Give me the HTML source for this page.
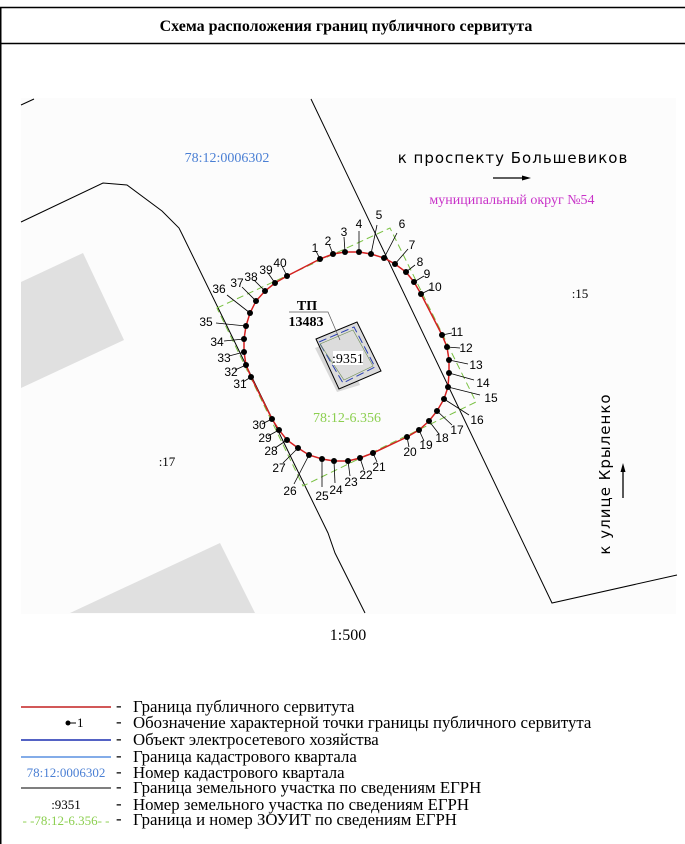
<!DOCTYPE html>
<html><head><meta charset="utf-8"><style>
html,body{margin:0;padding:0;background:#fff;width:685px;height:844px;overflow:hidden}
svg{display:block}
.n{font-family:"Liberation Sans",sans-serif;font-size:12px;fill:#000;text-anchor:middle}
.lg{font-family:"Liberation Serif",serif;font-size:16.8px;fill:#000}
</style></head><body>
<svg width="685" height="844" viewBox="0 0 685 844" xmlns="http://www.w3.org/2000/svg">
<line x1="0" y1="7.5" x2="685" y2="7.5" stroke="#000" stroke-width="1.5"/>
<line x1="0" y1="43.5" x2="685" y2="43.5" stroke="#000" stroke-width="1.5"/>
<line x1="0.75" y1="7" x2="0.75" y2="844" stroke="#000" stroke-width="1.5"/>
<text x="346" y="31" text-anchor="middle" font-family="Liberation Serif,serif" font-weight="bold" font-size="16">Схема расположения границ публичного сервитута</text>

<rect x="21" y="98" width="655" height="516" fill="#fcfcfc"/>
<polygon points="21,282 83,253 124,340 21,388" fill="#e0e0e0"/>
<polygon points="220,543 70,613 255,613" fill="#e0e0e0"/>
<line x1="21" y1="105" x2="34" y2="99" stroke="#000"/>
<polyline points="21,222 103,183 127,185 162,211 179,228 182,234 328,533 335,553 365,613" fill="none" stroke="#000"/>
<polyline points="311,99 552,603 677,575" fill="none" stroke="#000"/>

<text x="227" y="162" text-anchor="middle" font-family="Liberation Serif,serif" font-size="14" fill="#4a7fd4">78:12:0006302</text>
<text x="513" y="163" text-anchor="middle" font-family="DejaVu Sans,sans-serif" font-size="15" letter-spacing="1">к проспекту Большевиков</text>
<line x1="493" y1="178" x2="524" y2="178" stroke="#000" stroke-width="1.3"/><polygon points="522,175.5 531,178 522,180.5" fill="#000"/>
<text x="512" y="204" text-anchor="middle" font-family="Liberation Serif,serif" font-size="14" fill="#c832c8">муниципальный округ №54</text>
<text x="580" y="298" text-anchor="middle" font-family="Liberation Serif,serif" font-size="13">:15</text>
<text x="167" y="466" text-anchor="middle" font-family="Liberation Serif,serif" font-size="13">:17</text>
<text transform="translate(610,474) rotate(-90)" text-anchor="middle" font-family="DejaVu Sans,sans-serif" font-size="15" letter-spacing="1">к улице Крыленко</text>
<line x1="623" y1="470" x2="623" y2="498" stroke="#000" stroke-width="1.3"/><polygon points="620.5,472 623,463 625.5,472" fill="#000"/>

<polygon points="217,308 390,228 476,402 303,486" fill="none" stroke="#7ac143" stroke-dasharray="7,4"/>

<polygon points="315,348 341,338 360,385 337,392" fill="#d8d8d8"/>
<polygon points="316,339 357,322 381,371 339,389" fill="#dcdcdc" stroke="#000"/>
<polygon points="319,342 354,327 375,367 343,383" fill="none" stroke="#2a3fb0" stroke-dasharray="8,4"/>
<polygon points="320,344 353,330 373,366 344,380" fill="none" stroke="#6a8a50" stroke-width="0.6"/>
<text x="307" y="310" text-anchor="middle" font-family="Liberation Serif,serif" font-weight="bold" font-size="14">ТП</text>
<text x="306" y="326" text-anchor="middle" font-family="Liberation Serif,serif" font-weight="bold" font-size="14">13483</text>
<polyline points="289,312 328,312 340,340" fill="none" stroke="#555" stroke-width="0.7"/>
<rect x="333" y="351" width="30" height="14" fill="#fff"/>
<text x="348" y="363" text-anchor="middle" font-family="Liberation Serif,serif" font-size="14">:9351</text>
<text x="347" y="422" text-anchor="middle" font-family="Liberation Serif,serif" font-size="14" fill="#8ccf50">78:12-6.356</text>

<polygon points="320,259 333,254 345,252 359,252 371,254 384,258 395,264 406,272 414,282 421,294 442,335 447,347 449,360 449,373 448,387 444,399 437,411 429,421 419,430 407,437 373,453 360,458 348,461 334,461 322,459 309,455 298,448 287,440 279,430 272,419 251,377 246,365 244,352 244,339 246,326 250,313 256,301 265,291 275,283 287,276" fill="none" stroke="#d42020" stroke-width="1.5"/>
<g stroke="#000" stroke-width="0.8">
<line x1="320" y1="259" x2="316" y2="251"/><line x1="333" y1="254" x2="329" y2="244"/><line x1="345" y1="252" x2="344" y2="237"/><line x1="359" y1="252" x2="359" y2="231"/><line x1="371" y1="254" x2="377" y2="225"/><line x1="384" y1="258" x2="397" y2="233"/><line x1="395" y1="264" x2="408" y2="249"/><line x1="406" y1="272" x2="415" y2="265"/><line x1="414" y1="282" x2="424" y2="276"/><line x1="421" y1="294" x2="431" y2="289"/>
<line x1="442" y1="335" x2="452" y2="333"/><line x1="447" y1="347" x2="460" y2="348"/><line x1="449" y1="360" x2="468" y2="364"/><line x1="449" y1="373" x2="474" y2="380"/><line x1="448" y1="387" x2="480" y2="395"/><line x1="444" y1="399" x2="469" y2="415"/><line x1="437" y1="411" x2="452" y2="425"/><line x1="429" y1="421" x2="439" y2="434"/><line x1="419" y1="430" x2="424" y2="441"/><line x1="407" y1="437" x2="409" y2="447"/>
<line x1="373" y1="453" x2="377" y2="462"/><line x1="360" y1="458" x2="364" y2="470"/><line x1="348" y1="461" x2="350" y2="476"/><line x1="334" y1="461" x2="335" y2="483"/><line x1="322" y1="459" x2="322" y2="487"/><line x1="309" y1="455" x2="294" y2="484"/><line x1="298" y1="448" x2="283" y2="463"/><line x1="287" y1="440" x2="275" y2="448"/><line x1="279" y1="430" x2="268" y2="436"/><line x1="272" y1="419" x2="262" y2="424"/>
<line x1="251" y1="377" x2="243" y2="382"/><line x1="246" y1="365" x2="235" y2="370"/><line x1="244" y1="352" x2="229" y2="356"/><line x1="244" y1="339" x2="224" y2="341"/><line x1="246" y1="326" x2="216" y2="323"/><line x1="250" y1="313" x2="227" y2="295"/><line x1="256" y1="301" x2="242" y2="287"/><line x1="265" y1="291" x2="254" y2="280"/><line x1="275" y1="283" x2="268" y2="273"/><line x1="287" y1="276" x2="282" y2="266"/>
</g>
<g fill="#000">
<circle cx="320" cy="259" r="3"/><circle cx="333" cy="254" r="3"/><circle cx="345" cy="252" r="3"/><circle cx="359" cy="252" r="3"/><circle cx="371" cy="254" r="3"/><circle cx="384" cy="258" r="3"/><circle cx="395" cy="264" r="3"/><circle cx="406" cy="272" r="3"/><circle cx="414" cy="282" r="3"/><circle cx="421" cy="294" r="3"/>
<circle cx="442" cy="335" r="3"/><circle cx="447" cy="347" r="3"/><circle cx="449" cy="360" r="3"/><circle cx="449" cy="373" r="3"/><circle cx="448" cy="387" r="3"/><circle cx="444" cy="399" r="3"/><circle cx="437" cy="411" r="3"/><circle cx="429" cy="421" r="3"/><circle cx="419" cy="430" r="3"/><circle cx="407" cy="437" r="3"/>
<circle cx="373" cy="453" r="3"/><circle cx="360" cy="458" r="3"/><circle cx="348" cy="461" r="3"/><circle cx="334" cy="461" r="3"/><circle cx="322" cy="459" r="3"/><circle cx="309" cy="455" r="3"/><circle cx="298" cy="448" r="3"/><circle cx="287" cy="440" r="3"/><circle cx="279" cy="430" r="3"/><circle cx="272" cy="419" r="3"/>
<circle cx="251" cy="377" r="3"/><circle cx="246" cy="365" r="3"/><circle cx="244" cy="352" r="3"/><circle cx="244" cy="339" r="3"/><circle cx="246" cy="326" r="3"/><circle cx="250" cy="313" r="3"/><circle cx="256" cy="301" r="3"/><circle cx="265" cy="291" r="3"/><circle cx="275" cy="283" r="3"/><circle cx="287" cy="276" r="3"/>
</g>
<g class="n">
<text x="315" y="252">1</text><text x="328" y="245">2</text><text x="344" y="236">3</text><text x="359" y="228">4</text><text x="379" y="219">5</text><text x="402" y="228">6</text><text x="412" y="249">7</text><text x="420" y="266">8</text><text x="427" y="278">9</text><text x="435" y="291">10</text>
<text x="457" y="336">11</text><text x="466" y="352">12</text><text x="476" y="369">13</text><text x="483" y="387">14</text><text x="491" y="402">15</text><text x="477" y="424">16</text><text x="457" y="434">17</text><text x="442" y="442">18</text><text x="426" y="449">19</text><text x="410" y="456">20</text>
<text x="379" y="471">21</text><text x="366" y="479">22</text><text x="351" y="486">23</text><text x="336" y="494">24</text><text x="322" y="500">25</text><text x="290" y="495">26</text><text x="279" y="472">27</text><text x="271" y="455">28</text><text x="265" y="442">29</text><text x="259" y="429">30</text>
<text x="240" y="388">31</text><text x="231" y="376">32</text><text x="224" y="362">33</text><text x="217" y="346">34</text><text x="206" y="326">35</text><text x="219" y="293">36</text><text x="237" y="287">37</text><text x="251" y="281">38</text><text x="266" y="274">39</text><text x="280" y="267">40</text>
</g>

<text x="348" y="640" text-anchor="middle" font-family="Liberation Serif,serif" font-size="16">1:500</text>

<line x1="21" y1="707" x2="111" y2="707" stroke="#c42020" stroke-width="1.5"/>
<circle cx="68" cy="723" r="2.5" fill="#000"/><line x1="68" y1="723" x2="76" y2="723" stroke="#000"/><text x="77" y="727" font-family="Liberation Serif,serif" font-size="13">1</text>
<line x1="21" y1="740" x2="111" y2="740" stroke="#1a2fb0" stroke-width="1.5"/>
<line x1="21" y1="757" x2="111" y2="757" stroke="#5a90e0" stroke-width="1.5"/>
<text x="66" y="777" text-anchor="middle" font-family="Liberation Serif,serif" font-size="13" fill="#4a7fd4">78:12:0006302</text>
<line x1="21" y1="788" x2="111" y2="788" stroke="#555" stroke-width="1.5"/>
<text x="66" y="809" text-anchor="middle" font-family="Liberation Serif,serif" font-size="13">:9351</text>
<text x="66" y="825" text-anchor="middle" font-family="Liberation Serif,serif" font-size="13" fill="#8ccf50">- -78:12-6.356- -</text>
<g class="lg">
<text x="116" y="711">-</text><text x="116" y="727">-</text><text x="116" y="744">-</text><text x="116" y="761">-</text><text x="116" y="777">-</text><text x="116" y="792">-</text><text x="116" y="809">-</text><text x="116" y="824">-</text>
<text x="133" y="712">Граница публичного сервитута</text>
<text x="133" y="728">Обозначение характерной точки границы публичного сервитута</text>
<text x="133" y="745">Объект электросетевого хозяйства</text>
<text x="133" y="762">Граница кадастрового квартала</text>
<text x="133" y="778">Номер кадастрового квартала</text>
<text x="133" y="793">Граница земельного участка по сведениям ЕГРН</text>
<text x="133" y="810">Номер земельного участка по сведениям ЕГРН</text>
<text x="133" y="825">Граница и номер ЗОУИТ по сведениям ЕГРН</text>
</g>
</svg>
</body></html>
